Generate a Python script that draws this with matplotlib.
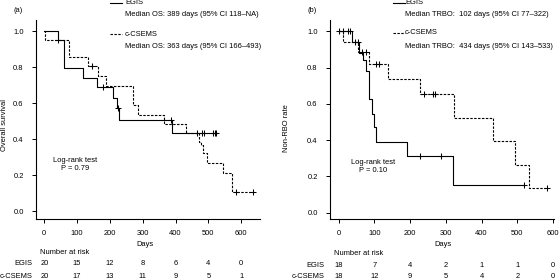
import matplotlib
matplotlib.use("Agg")
import matplotlib.pyplot as plt
from matplotlib.transforms import blended_transform_factory

plt.rcParams['font.family'] = ['Liberation Sans', 'DejaVu Sans']
FS = 5.4

# ---- panel (a): overall survival ----
a_egis_days = [0, 42, 60, 119, 160, 208, 222, 229, 388]
a_egis_surv = [1.0, 0.95, 0.795, 0.74, 0.69, 0.63, 0.575, 0.51, 0.437]
a_egis_end = 527
a_egis_cens_days = [178, 225, 386, 480, 487, 514, 519, 523]
a_egis_cens_surv = [0.69, 0.575, 0.51, 0.437, 0.437, 0.437, 0.437, 0.437]

a_cs_days = [0, 2, 76, 134, 165, 188, 270, 287, 365, 431, 473, 478, 483, 497, 544, 573]
a_cs_surv = [1.0, 0.95, 0.855, 0.807, 0.75, 0.696, 0.592, 0.537, 0.485, 0.437,
             0.387, 0.368, 0.322, 0.27, 0.215, 0.107]
a_cs_end = 637
a_cs_cens_days = [43, 146, 467, 583, 637]
a_cs_cens_surv = [0.95, 0.807, 0.437, 0.107, 0.107]

a_risk_egis = [20, 15, 12, 8, 6, 4, 0]
a_risk_cs = [20, 17, 13, 11, 9, 5, 1]

# ---- panel (b): non-RBO rate ----
b_egis_days = [0, 36, 58, 69, 76, 86, 92, 98, 105, 190, 321]
b_egis_surv = [1.0, 0.94, 0.88, 0.84, 0.78, 0.625, 0.545, 0.47, 0.39, 0.31, 0.155]
b_egis_end = 519
b_egis_cens_days = [2, 13, 25, 32, 228, 286, 519]
b_egis_cens_surv = [1.0, 1.0, 1.0, 1.0, 0.31, 0.31, 0.155]

b_cs_days = [0, 11, 55, 86, 139, 228, 323, 432, 493, 532]
b_cs_surv = [1.0, 0.94, 0.885, 0.82, 0.735, 0.652, 0.523, 0.395, 0.263, 0.134]
b_cs_end = 583
b_cs_cens_days = [46, 55, 64, 77, 104, 113, 239, 265, 269, 583]
b_cs_cens_surv = [0.94, 0.94, 0.885, 0.885, 0.82, 0.82, 0.652, 0.652, 0.652, 0.134]

b_risk_egis = [18, 7, 4, 2, 1, 1, 0]
b_risk_cs = [18, 12, 9, 5, 4, 2, 0]

risk_days = [0, 100, 200, 300, 400, 500, 600]
yticks = [0.0, 0.2, 0.4, 0.6, 0.8, 1.0]

W, H = 560, 280
fig = plt.figure(figsize=(5.6, 2.8), dpi=100)


def fx(x):
    return x / W


def fy(y):
    return 1 - y / H


def km(ax, days, surv, end, cdays, csurv, ls):
    ax.step(days + [end], surv + [surv[-1]], where="post", color="black",
            lw=0.8, linestyle=ls, dashes=(2.2, 1.3) if ls == "--" else (None, None))
    ax.plot(cdays, csurv, linestyle="none", marker="+", color="black",
            markersize=4.5, markeredgewidth=0.75)


def panel(box, xlim, ylim, ypad):
    left, bottom, right, top = box
    ax = fig.add_axes([fx(left), fy(bottom), fx(right - left), (bottom - top) / H])
    ax.set_xlim(*xlim)
    ax.set_ylim(*ylim)
    for s in ["top", "right"]:
        ax.spines[s].set_visible(False)
    for s in ["left", "bottom"]:
        ax.spines[s].set_linewidth(0.8)
    ax.set_xticks(risk_days)
    ax.set_yticks(yticks)
    ax.set_yticklabels([f"{v:.1f}" for v in yticks])
    ax.tick_params(axis="x", length=2.9, width=0.7, pad=5, labelsize=FS)
    ax.tick_params(axis="y", length=2.9, width=0.7, pad=ypad, labelsize=FS)
    return ax


def risk_table(ax, egis, cs, name_x, head_x, row_y):
    tr = blended_transform_factory(ax.transData, fig.transFigure)
    fig.text(fx(head_x), fy(row_y[0]), "Number at risk", fontsize=FS, va="center")
    fig.text(fx(name_x), fy(row_y[1]), "EGIS", fontsize=FS, ha="right", va="center")
    fig.text(fx(name_x), fy(row_y[2]), "c-CSEMS", fontsize=FS, ha="right", va="center")
    for d, e, c in zip(risk_days, egis, cs):
        ax.text(d, fy(row_y[1]), str(e), transform=tr, fontsize=FS, ha="center", va="center")
        ax.text(d, fy(row_y[2]), str(c), transform=tr, fontsize=FS, ha="center", va="center")


def legend(x_line, x_text, lines):
    for (y, ls, name), (y2, med) in lines:
        fig.add_artist(plt.Line2D([fx(x_line), fx(x_line + 12)], [fy(y), fy(y)],
                                  color="black", lw=0.8, linestyle=ls,
                                  dashes=(2.2, 1.3) if ls == "--" else (None, None)))
        fig.text(fx(x_text), fy(y), name, fontsize=FS, va="center")
        fig.text(fx(x_text), fy(y2), med, fontsize=FS, va="center")


# panel (a)
ax1 = panel((36, 219, 260, 20), (-25.3, 657.6), (-0.043, 1.063), 6)
km(ax1, a_egis_days, a_egis_surv, a_egis_end, a_egis_cens_days, a_egis_cens_surv, "-")
km(ax1, a_cs_days, a_cs_surv, a_cs_end, a_cs_cens_days, a_cs_cens_surv, "--")
fig.text(fx(13), fy(11), "(a)", fontsize=FS, va="center")
fig.text(fx(5), fy(125), "Overall survival", fontsize=FS, rotation=90, ha="center", va="center")
fig.text(fx(145), fy(245), "Days", fontsize=FS, ha="center", va="center")
fig.text(fx(75), fy(160.5), "Log-rank test", fontsize=FS, ha="center", va="center")
fig.text(fx(75), fy(168), "P = 0.79", fontsize=FS, ha="center", va="center")
legend(110, 125, [((3, "-", "EGIS"), (15, "Median OS: 389 days (95% CI 118\u2013NA)")),
                  ((34, "--", "c-CSEMS"), (47, "Median OS: 363 days (95% CI 166\u2013493)"))])
risk_table(ax1, a_risk_egis, a_risk_cs, 32.5, 40, (252.7, 263.5, 276))

# panel (b)
ax2 = panel((330, 219.3, 554, 20), (-24.4, 603), (-0.036, 1.062), 6)
km(ax2, b_egis_days, b_egis_surv, b_egis_end, b_egis_cens_days, b_egis_cens_surv, "-")
km(ax2, b_cs_days, b_cs_surv, b_cs_end, b_cs_cens_days, b_cs_cens_surv, "--")
fig.text(fx(308), fy(11), "(b)", fontsize=FS, va="center")
fig.text(fx(286), fy(128), "Non-RBO rate", fontsize=FS, rotation=90, ha="center", va="center")
fig.text(fx(443), fy(244.5), "Days", fontsize=FS, ha="center", va="center")
fig.text(fx(373), fy(162.5), "Log-rank test", fontsize=FS, ha="center", va="center")
fig.text(fx(373), fy(170.5), "P = 0.10", fontsize=FS, ha="center", va="center")
legend(393, 405, [((3, "-", "EGIS"), (15, "Median TRBO:  102 days (95% CI 77\u2013322)")),
                  ((33, "--", "c-CSEMS"), (47, "Median TRBO:  434 days (95% CI 143\u2013533)"))])
risk_table(ax2, b_risk_egis, b_risk_cs, 324, 334, (253.3, 265.5, 276.5))

fig.savefig("out.png", dpi=100, facecolor="white")
